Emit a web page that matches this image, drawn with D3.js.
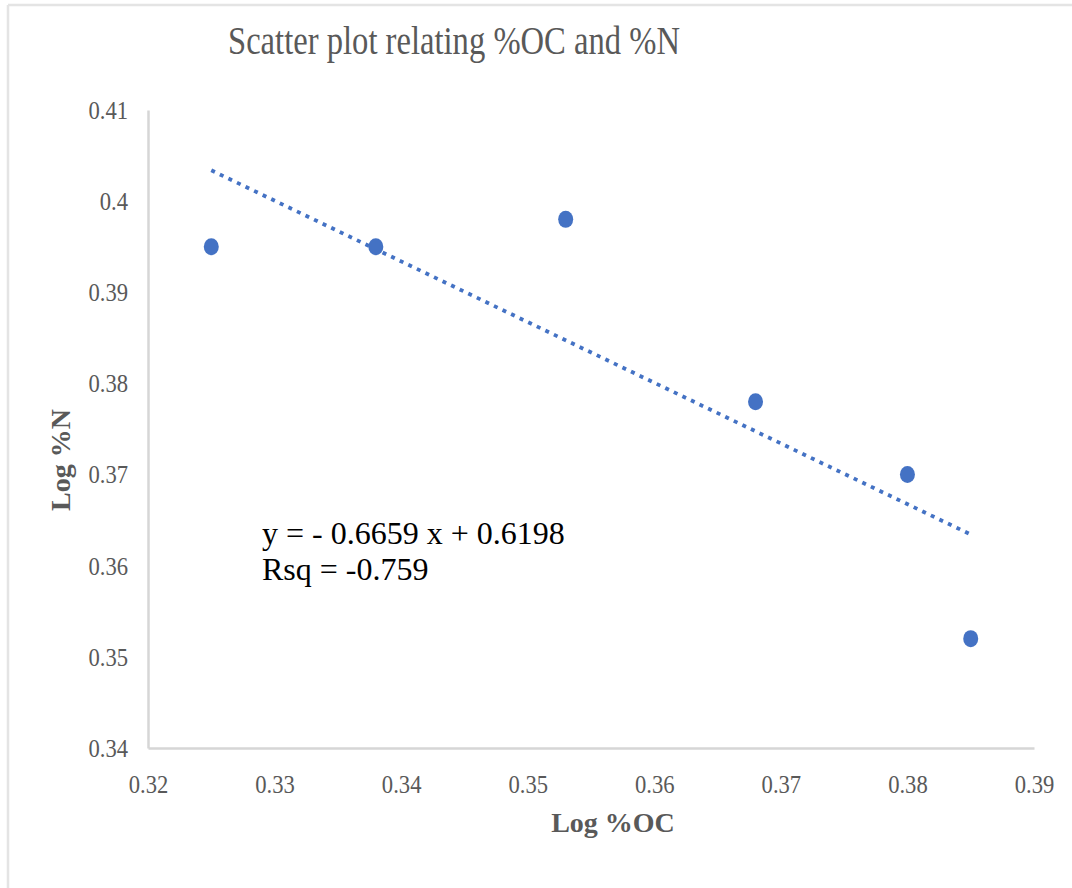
<!DOCTYPE html>
<html>
<head>
<meta charset="utf-8">
<script src="https://cdn.jsdelivr.net/npm/d3@7"></script>
<style>
  html, body { margin: 0; padding: 0; background: #ffffff; }
  svg { display: block; }
</style>
</head>
<body>
<svg id="chart" width="1072" height="888"></svg>
<script>
// ---- data ----
const logOC = [0.325, 0.338, 0.353, 0.368, 0.380, 0.385];
const logN  = [0.395, 0.395, 0.398, 0.378, 0.370, 0.352];
const xTickValues = [0.32, 0.33, 0.34, 0.35, 0.36, 0.37, 0.38, 0.39];
const xTickLabels = ["0.32", "0.33", "0.34", "0.35", "0.36", "0.37", "0.38", "0.39"];
const yTickValues = [0.34, 0.35, 0.36, 0.37, 0.38, 0.39, 0.40, 0.41];
const yTickLabels = ["0.34", "0.35", "0.36", "0.37", "0.38", "0.39", "0.4", "0.41"];
const trendSlope = -0.6659;
const trendIntercept = 0.6198;
const equationLines = ["y = - 0.6659 x + 0.6198", "Rsq = -0.759"];
const titleText = "Scatter plot relating %OC and %N";
const xLabel = "Log %OC";
const yLabel = "Log %N";

// ---- drawing ----
const svg = d3.select("#chart");
const serif = "'Liberation Serif', 'Times New Roman', serif";

// outer frame (top & left edges)
svg.append("line").attr("x1", 8).attr("x2", 1072).attr("y1", 5).attr("y2", 5)
  .attr("stroke", "#e4e4e4").attr("stroke-width", 2.5);
svg.append("line").attr("x1", 8).attr("x2", 8).attr("y1", 5).attr("y2", 888)
  .attr("stroke", "#e4e4e4").attr("stroke-width", 2.5);

const x = d3.scaleLinear().domain([0.32, 0.39]).range([148, 1034]);
const y = d3.scaleLinear().domain([0.34, 0.41]).range([748, 110]);

const xAxis = d3.axisBottom(x).tickValues(xTickValues)
  .tickFormat((d, i) => xTickLabels[i]).tickSize(0).tickPadding(27);
const yAxis = d3.axisLeft(y).tickValues(yTickValues)
  .tickFormat((d, i) => yTickLabels[i]).tickSize(0).tickPadding(20);

const gx = svg.append("g").attr("transform", "translate(0,748)").call(xAxis);
const gy = svg.append("g").attr("transform", "translate(148,0)").call(yAxis);

[gx, gy].forEach(g => {
  g.select(".domain").attr("stroke", "#d6d6d6").attr("stroke-width", 2.5);
  g.selectAll(".tick text")
    .attr("font-family", serif)
    .attr("font-size", 26)
    .attr("fill", "#595959");
});
// condense tick labels slightly like the reference
[gx, gy].forEach(g => {
  g.selectAll(".tick text").each(function () {
    const w = this.getComputedTextLength();
    d3.select(this).attr("textLength", w * 0.87).attr("lengthAdjust", "spacingAndGlyphs");
  });
});

// title
const title = svg.append("text")
  .attr("x", 228).attr("y", 54)
  .attr("font-family", serif).attr("font-size", 39)
  .attr("fill", "#595959")
  .text(titleText);
title.attr("textLength", 452).attr("lengthAdjust", "spacingAndGlyphs");

// axis titles
svg.append("text")
  .attr("x", 613).attr("y", 832)
  .attr("text-anchor", "middle")
  .attr("font-family", serif).attr("font-size", 28).attr("font-weight", "bold")
  .attr("fill", "#595959")
  .text(xLabel);

svg.append("text")
  .attr("transform", "translate(70,460) rotate(-90)")
  .attr("text-anchor", "middle")
  .attr("font-family", serif).attr("font-size", 28).attr("font-weight", "bold")
  .attr("fill", "#595959")
  .text(yLabel);

// trendline (linear fit)
const xMin = d3.min(logOC), xMax = d3.max(logOC);
const trend = [xMin, xMax].map(v => [v, trendSlope * v + trendIntercept]);
svg.append("path")
  .datum(trend)
  .attr("d", d3.line().x(d => x(d[0])).y(d => y(d[1])))
  .attr("fill", "none")
  .attr("stroke", "#4472C4")
  .attr("stroke-width", 3.8)
  .attr("stroke-dasharray", "4 5.5");

// points
svg.append("g").selectAll("ellipse")
  .data(logOC.map((v, i) => [v, logN[i]]))
  .join("ellipse")
  .attr("cx", d => x(d[0]))
  .attr("cy", d => y(d[1]))
  .attr("rx", 7.5)
  .attr("ry", 8.5)
  .attr("fill", "#4472C4");

// equation text
svg.append("g").selectAll("text")
  .data(equationLines)
  .join("text")
  .attr("x", 262)
  .attr("y", (d, i) => 544 + i * 36)
  .attr("font-family", serif).attr("font-size", 32)
  .attr("fill", "#000000")
  .text(d => d);
</script>
</body>
</html>
